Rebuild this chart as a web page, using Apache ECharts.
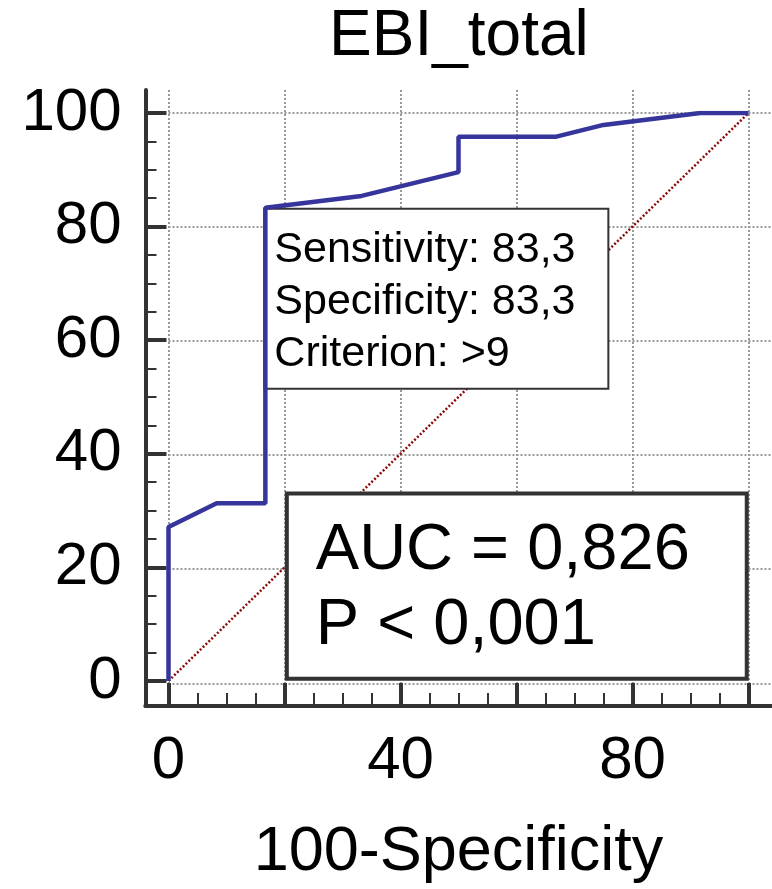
<!DOCTYPE html>
<html>
<head>
<meta charset="utf-8">
<title>EBI_total ROC</title>
<script src="https://cdn.jsdelivr.net/npm/echarts@6/dist/echarts.min.js"></script>
<style>
  html, body { margin: 0; padding: 0; background: #fff; }
  #chart { width: 772px; height: 889px; }
</style>
</head>
<body>
<div id="chart"></div>
<script>
// ROC curve: 100-Specificity vs Sensitivity
const fpr = [0, 0, 8.3, 16.7, 16.7, 33.3, 50, 50, 66.7, 75, 91.7, 100];
const tpr = [0, 27.1, 31.3, 31.3, 83.3, 85.4, 89.6, 95.8, 95.8, 97.9, 100, 100];

// chance diagonal
const refX = [0, 100];
const refY = [0, 100];

// optimal criterion (box hangs from this point)
const criterionPoint = [16.7, 83.3];
const criterionLines = ['Sensitivity: 83,3', 'Specificity: 83,3', 'Criterion: >9'];
const aucLines = ['AUC = 0,826', 'P < 0,001'];

const FONT = '"Liberation Sans", Arial, sans-serif';
const INK = '#333';

const chart = echarts.init(document.getElementById('chart'));

const rocData = fpr.map((x, i) => [x, tpr[i]]);
const refData = refX.map((x, i) => [x, refY[i]]);

// three grids share the same scale:
// 0 = axis lines (run into the corner), 1 = data + ticks + labels, 2 = dotted grid
const option = {
  animation: false,
  title: {
    text: 'EBI_total',
    left: 329,
    top: 5,
    padding: 0,
    textStyle: { fontSize: 64, fontWeight: 'normal', color: '#000', fontFamily: FONT }
  },
  grid: [
    { left: 145.3, right: 0, top: 90, bottom: 183 },
    { left: 168.5, right: 23.5, top: 113, bottom: 205.7 },
    { left: 168.5, right: 0, top: 90, bottom: 205.7 }
  ],
  xAxis: [
    {
      gridIndex: 0, type: 'value', min: -4, max: 104,
      axisLine: { show: true, onZero: false, lineStyle: { color: INK, width: 4 } },
      axisTick: { show: false }, axisLabel: { show: false }, splitLine: { show: false }
    },
    {
      gridIndex: 1, type: 'value', min: 0, max: 100, interval: 20, offset: 23,
      axisLine: { show: false, onZero: false },
      axisTick: { show: true, inside: true, length: 21, lineStyle: { color: INK, width: 4 } },
      minorTick: { show: true, splitNumber: 4, length: 11, lineStyle: { color: INK, width: 2 } },
      axisLabel: {
        fontSize: 60, color: '#000', fontFamily: FONT, margin: 27,
        formatter: v => (v % 40 === 0 ? String(v) : '')
      },
      splitLine: { show: false },
      name: '100-Specificity',
      nameLocation: 'middle',
      nameGap: 117,
      nameTextStyle: { fontSize: 63, color: '#000', fontFamily: FONT }
    },
    {
      gridIndex: 2, type: 'value', min: 0, max: 104, interval: 20,
      axisLine: { show: false, onZero: false }, axisTick: { show: false }, axisLabel: { show: false },
      splitLine: { show: true, showMaxLine: false, lineStyle: { color: '#999', width: 2, type: [2, 2] } }
    }
  ],
  yAxis: [
    {
      gridIndex: 0, type: 'value', min: -4, max: 104,
      axisLine: { show: true, onZero: false, lineStyle: { color: INK, width: 4 } },
      axisTick: { show: false }, axisLabel: { show: false }, splitLine: { show: false }
    },
    {
      gridIndex: 1, type: 'value', min: 0, max: 100, interval: 20, offset: 23,
      axisLine: { show: false, onZero: false },
      axisTick: { show: true, inside: true, length: 21, lineStyle: { color: INK, width: 4 } },
      minorTick: { show: true, splitNumber: 4, length: 11, lineStyle: { color: INK, width: 2 } },
      axisLabel: { fontSize: 60, color: '#000', fontFamily: FONT, margin: 24 },
      splitLine: { show: false }
    },
    {
      gridIndex: 2, type: 'value', min: 0, max: 104, interval: 20,
      axisLine: { show: false, onZero: false }, axisTick: { show: false }, axisLabel: { show: false },
      splitLine: { show: true, showMaxLine: false, lineStyle: { color: '#999', width: 2, type: [2, 2] } }
    }
  ],
  series: [
    {
      type: 'line', xAxisIndex: 1, yAxisIndex: 1, z: 2,
      data: refData, showSymbol: false, silent: true,
      lineStyle: { color: '#8b0a0a', width: 2.5, type: [2, 2] }
    },
    {
      // criterion box
      type: 'custom', xAxisIndex: 1, yAxisIndex: 1, z: 3, silent: true,
      data: [criterionPoint],
      renderItem: (params, api) => {
        const p = api.coord([api.value(0), api.value(1)]);
        return {
          type: 'group',
          children: [
            { type: 'rect', shape: { x: p[0] - 1, y: p[1] + 1, width: 344, height: 180 },
              style: { fill: '#fff', stroke: INK, lineWidth: 2 } },
            { type: 'text', style: {
                x: p[0] + 9, y: p[1] + 16, text: criterionLines.join('\n'),
                fontSize: 43, fontFamily: FONT, fill: '#000', lineHeight: 52, verticalAlign: 'top' } }
          ]
        };
      }
    },
    {
      // AUC box, lower right
      type: 'custom', xAxisIndex: 1, yAxisIndex: 1, z: 3, silent: true,
      data: [[0, 0]],
      renderItem: (params, api) => {
        const tl = api.coord([20.4, 33]);
        const br = api.coord([99.7, 0.4]);
        return {
          type: 'group',
          children: [
            { type: 'rect', shape: { x: tl[0], y: tl[1], width: br[0] - tl[0], height: br[1] - tl[1] },
              style: { fill: '#fff', stroke: INK, lineWidth: 4 } },
            { type: 'text', style: {
                x: tl[0] + 29, y: tl[1] + 20, text: aucLines.join('\n'),
                fontSize: 65, fontFamily: FONT, fill: '#000', lineHeight: 75, verticalAlign: 'top' } }
          ]
        };
      }
    },
    {
      type: 'line', xAxisIndex: 1, yAxisIndex: 1, z: 4,
      data: rocData, showSymbol: false, silent: true,
      lineStyle: { color: '#35359b', width: 4.5 }
    }
  ]
};

chart.setOption(option);
</script>
</body>
</html>
